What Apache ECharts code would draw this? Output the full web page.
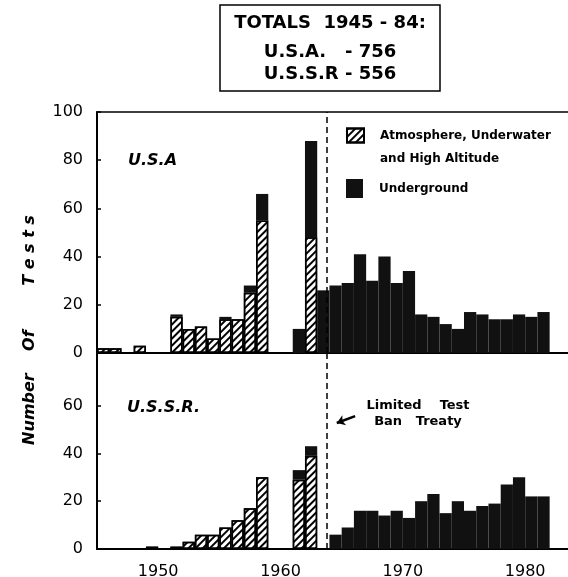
<!DOCTYPE html>
<html>
<head>
<meta charset="utf-8">
<style>
  html, body { margin: 0; padding: 0; background: #fff; }
  #chart { width: 568px; height: 577px; }
</style>
<script src="https://cdn.jsdelivr.net/npm/echarts@6/dist/echarts.min.js"></script>
</head>
<body>
<div id="chart"></div>
<script>
// years 1945 .. 1981
const years = [
  1945, 1946, 1947, 1948, 1949, 1950, 1951, 1952, 1953, 1954,
  1955, 1956, 1957, 1958, 1959, 1960, 1961, 1962, 1963, 1964,
  1965, 1966, 1967, 1968, 1969, 1970, 1971, 1972, 1973, 1974,
  1975, 1976, 1977, 1978, 1979, 1980, 1981
];

// U.S.A.
const usAtmos = [
  2, 2, 0, 3, 0, 0, 15, 10, 11, 6,
  14, 14, 25, 55, 0, 0, 0, 48, 0, 0,
  0, 0, 0, 0, 0, 0, 0, 0, 0, 0,
  0, 0, 0, 0, 0, 0, 0
];
const usUnder = [
  0, 0, 0, 0, 0, 0, 1, 0, 0, 0,
  1, 0, 3, 11, 0, 0, 10, 40, 26, 28,
  29, 41, 30, 40, 29, 34, 16, 15, 12, 10,
  17, 16, 14, 14, 16, 15, 17
];

// U.S.S.R.
const ussrAtmos = [
  0, 0, 0, 0, 1, 0, 1, 3, 6, 6,
  9, 12, 17, 30, 0, 0, 29, 39, 0, 0,
  0, 0, 0, 0, 0, 0, 0, 0, 0, 0,
  0, 0, 0, 0, 0, 0, 0
];
const ussrUnder = [
  0, 0, 0, 0, 0, 0, 0, 0, 0, 0,
  0, 0, 0, 0, 0, 0, 4, 4, 0, 6,
  9, 16, 16, 14, 16, 13, 20, 23, 15, 20,
  16, 18, 19, 27, 30, 22, 22
];

const yearLabels = [1950, 1960, 1970, 1980];
const ussrTicks = [0, 20, 40, 60];
const treatyYear = 1963.77; // Limited Test Ban Treaty in force (Oct 1963)

const ATM = 'Atmosphere, Underwater and High Altitude';
const UND = 'Underground';
const FONT = '"DejaVu Sans", sans-serif';

// [tests, mid-year]; the count comes first so the stack runs on the count
const pts = vals => years.map((y, i) => [vals[i], y + 0.5]);
const enc = { x: 1, y: 0 };

const hatch = {
    color: '#fff',
    borderColor: '#000',
    borderWidth: 1.5,
    decal: {
        symbol: 'rect',
        symbolSize: 1,
        dashArrayX: [1, 0],
        dashArrayY: [1.6, 2.4],
        rotation: -Math.PI / 4,
        color: '#000'
    }
};
const solid = { color: '#111' };

const treatyLine = {
    silent: true,
    symbol: 'none',
    label: { show: false },
    lineStyle: { color: '#000', type: [6, 4], width: 1.5 },
    data: [{ xAxis: treatyYear }]
};

const chart = echarts.init(document.getElementById('chart'));

const xBase = {
    type: 'value',
    min: 1945,
    max: 1983.5,
    splitLine: { show: false },
    axisTick: { show: false },
    axisLine: { show: true, onZero: false, lineStyle: { color: '#000', width: 2 } }
};

const option = {
    animation: false,
    backgroundColor: '#fff',
    title: [
        {
            text: 'TOTALS  1945 - 84:',
            subtext: 'U.S.A.   - 756\nU.S.S.R - 556',
            left: 316,
            top: 5,
            textAlign: 'center',
            padding: [5, 14, 6, 14],
            itemGap: 5,
            borderColor: '#000',
            borderWidth: 1.5,
            textStyle: { fontFamily: FONT, fontSize: 18, fontWeight: 'bold', color: '#000', lineHeight: 26 },
            subtextStyle: { fontFamily: FONT, fontSize: 18, fontWeight: 'bold', color: '#000', lineHeight: 22 }
        },
        {
            text: 'U.S.A',
            left: 128,
            top: 153,
            padding: 0,
            textStyle: { fontFamily: FONT, fontSize: 16, fontStyle: 'italic', fontWeight: 'bold', color: '#000' }
        },
        {
            text: 'U.S.S.R.',
            left: 127,
            top: 400,
            padding: 0,
            textStyle: { fontFamily: FONT, fontSize: 16, fontStyle: 'italic', fontWeight: 'bold', color: '#000' }
        },
        {
            text: 'Limited    Test\nBan   Treaty',
            left: 418,
            top: 398,
            padding: 0,
            textAlign: 'center',
            textStyle: { fontFamily: FONT, fontSize: 13, fontWeight: 'bold', color: '#000', lineHeight: 16 }
        }
    ],
    legend: [
        {
            data: [ATM],
            left: 346,
            top: 101,
            padding: 0,
            icon: 'rect',
            itemWidth: 17,
            itemHeight: 14,
            selectedMode: false,
            formatter: () => '\nAtmosphere, Underwater\nand High Altitude',
            textStyle: { fontFamily: FONT, fontSize: 12, fontWeight: 'bold', color: '#000', lineHeight: 23, padding: [0, 0, 0, 11] }
        },
        {
            data: [UND],
            left: 346,
            top: 179,
            padding: 0,
            icon: 'rect',
            itemWidth: 17,
            itemHeight: 19,
            selectedMode: false,
            textStyle: { fontFamily: FONT, fontSize: 12, fontWeight: 'bold', color: '#000', padding: [0, 0, 0, 11] }
        }
    ],
    graphic: [
        {
            type: 'text',
            x: 30,
            y: 330,
            rotation: Math.PI / 2,
            style: {
                text: 'Number    Of        T e s t s',
                font: 'italic bold 16px "DejaVu Sans"',
                fill: '#000',
                align: 'center',
                verticalAlign: 'middle'
            }
        }
    ],
    grid: [
        { left: 97, right: 0, top: 112, height: 241, outerBoundsMode: 'none' },
        { left: 97, right: 0, top: 353, height: 196, outerBoundsMode: 'none' }
    ],
    xAxis: [
        Object.assign({}, xBase, { gridIndex: 0, axisLabel: { show: false } }),
        Object.assign({}, xBase, {
            gridIndex: 1,
            axisLabel: {
                customValues: yearLabels,
                formatter: v => String(v),
                color: '#000',
                fontFamily: FONT,
                fontSize: 16,
                margin: 15
            }
        }),
        Object.assign({}, xBase, { gridIndex: 0, position: 'top', axisLabel: { show: false },
            axisLine: { show: true, onZero: false, lineStyle: { color: '#000', width: 1.5 } } })
    ],
    yAxis: [
        {
            type: 'value',
            gridIndex: 0,
            min: 0,
            max: 100,
            interval: 20,
            splitLine: { show: false },
            axisLine: { show: true, lineStyle: { color: '#000', width: 2 } },
            axisTick: { show: true, inside: true, length: 4, lineStyle: { color: '#000', width: 1.5 } },
            axisLabel: { color: '#000', fontFamily: FONT, fontSize: 16, margin: 14 }
        },
        {
            type: 'value',
            gridIndex: 1,
            min: 0,
            max: 82,
            splitLine: { show: false },
            axisLine: { show: true, lineStyle: { color: '#000', width: 2 } },
            axisTick: { show: true, inside: true, length: 4, customValues: ussrTicks, lineStyle: { color: '#000', width: 1.5 } },
            axisLabel: { customValues: ussrTicks, color: '#000', fontFamily: FONT, fontSize: 16, margin: 14 }
        }
    ],
    series: [
        {
            name: ATM, type: 'bar', stack: 'us', xAxisIndex: 0, yAxisIndex: 0, encode: enc,
            barCategoryGap: '0%', barWidth: '100%',
            data: pts(usAtmos), itemStyle: hatch, emphasis: { disabled: true },
            markLine: treatyLine
        },
        {
            name: UND, type: 'bar', stack: 'us', xAxisIndex: 0, yAxisIndex: 0, encode: enc,
            barCategoryGap: '0%', barWidth: '100%',
            data: pts(usUnder), itemStyle: solid, emphasis: { disabled: true }
        },
        {
            name: ATM, type: 'bar', stack: 'ussr', xAxisIndex: 1, yAxisIndex: 1, encode: enc,
            barCategoryGap: '0%', barWidth: '100%',
            data: pts(ussrAtmos), itemStyle: hatch, emphasis: { disabled: true },
            markLine: treatyLine
        },
        {
            name: UND, type: 'bar', stack: 'ussr', xAxisIndex: 1, yAxisIndex: 1, encode: enc,
            barCategoryGap: '0%', barWidth: '100%',
            data: pts(ussrUnder), itemStyle: solid, emphasis: { disabled: true },
            // arrow pointing from the treaty note to the dashed line
            markLine: {
                silent: true,
                symbol: ['none', 'arrow'],
                symbolSize: 8,
                label: { show: false },
                lineStyle: { color: '#000', type: 'solid', width: 2.5 },
                data: [[{ coord: [1966.1, 55.6] }, { coord: [1964.6, 52.7] }]]
            }
        }
    ]
};

chart.setOption(option);

window.addEventListener('resize', function () {
    chart.resize();
});
</script>
</body>
</html>
